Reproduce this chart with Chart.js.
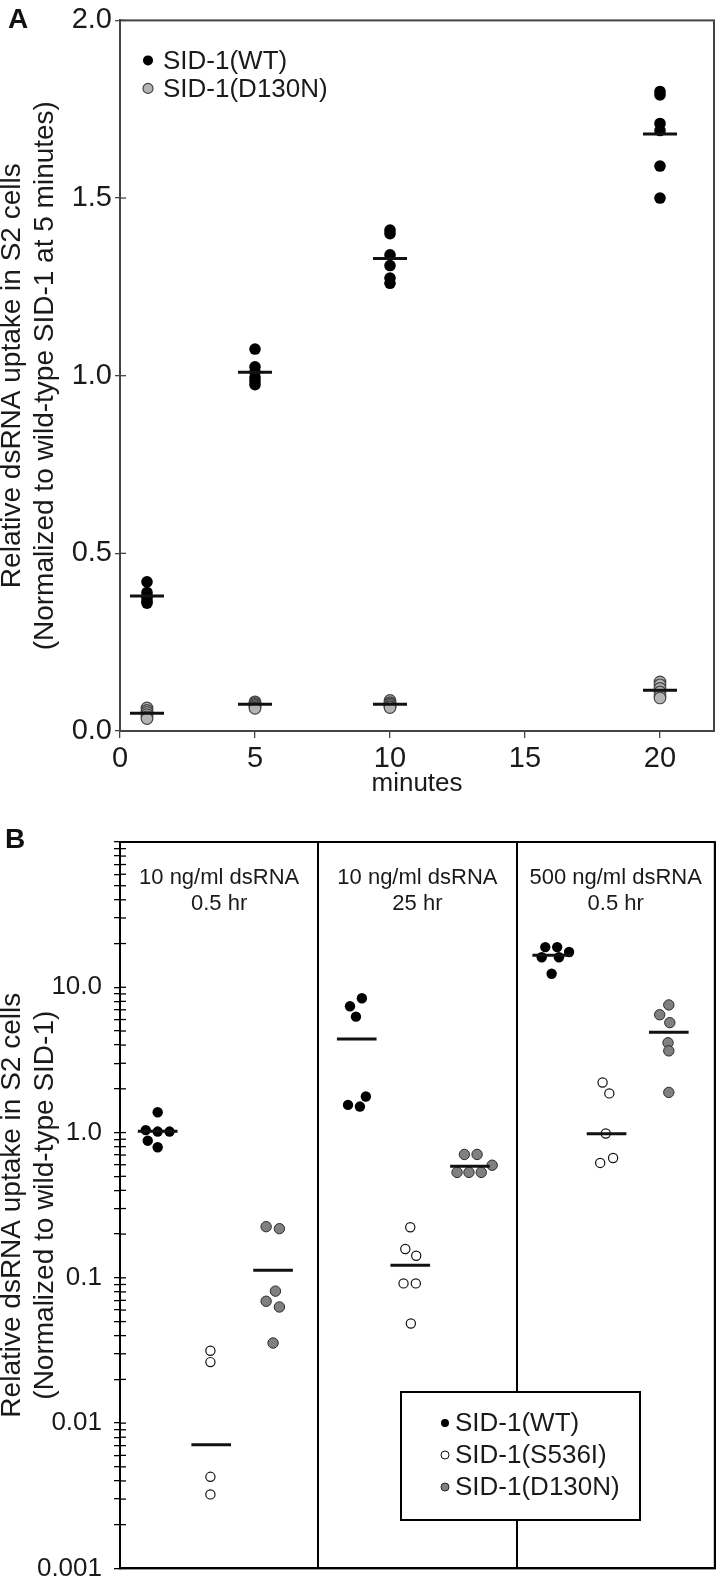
<!DOCTYPE html>
<html>
<head>
<meta charset="utf-8">
<script src="https://cdn.jsdelivr.net/npm/chart.js@4"></script>
<style>
  body { margin: 0; background: #fff; width: 721px; height: 1596px; position: relative; overflow: hidden;
         font-family: "Liberation Sans", Arial, Helvetica, sans-serif; }
  .box { position: absolute; left: 0; width: 721px; }
  .tag { position: absolute; font-weight: bold; font-size: 28px; color: #111; }
</style>
</head>
<body>
<div class="box" style="top:0;height:800px"><canvas id="chartA" width="721" height="800"></canvas></div>
<div class="box" style="top:810px;height:786px"><canvas id="chartB" width="721" height="786"></canvas></div>
<div class="tag" style="left:8px;top:3px">A</div>
<div class="tag" style="left:5px;top:823px">B</div>
<script>
// ---------- panel A data ----------
const timesA = [1, 5, 10, 20];
const wtA = [
  [0.42, 0.39, 0.38, 0.375, 0.365, 0.36],
  [1.075, 1.025, 1.01, 0.995, 0.985, 0.975],
  [1.41, 1.40, 1.34, 1.31, 1.275, 1.26],
  [1.80, 1.79, 1.71, 1.69, 1.59, 1.50]
];
const d130nA = [
  [0.065, 0.058, 0.052, 0.046, 0.040, 0.035],
  [0.082, 0.078, 0.075, 0.072, 0.068, 0.064],
  [0.086, 0.080, 0.076, 0.072, 0.068, 0.066],
  [0.138, 0.130, 0.120, 0.110, 0.100, 0.093]
];
const wtMeanA = [0.38, 1.01, 1.33, 1.68];
const d130nMeanA = [0.05, 0.075, 0.075, 0.115];
const xTicksA = [0, 5, 10, 15, 20];
const yTicksA = [0, 0.5, 1.0, 1.5, 2.0];
const seriesA = ['SID-1(WT)', 'SID-1(D130N)'];

// ---------- panel B data ----------
const conditionsB = [['10 ng/ml dsRNA', '0.5 hr'], ['10 ng/ml dsRNA', '25 hr'], ['500 ng/ml dsRNA', '0.5 hr']];
const wtB = [[1.38, 1.04, 1.016, 1.016, 0.879, 0.792], [8.4, 7.4, 6.28, 1.77, 1.55, 1.51], [18.9, 18.9, 17.5, 16.1, 16.1, 12.4]];
const wtXB = [[0.19, 0.13, 0.19, 0.25, 0.14, 0.19], [1.22, 1.16, 1.19, 1.24, 1.15, 1.21], [2.145, 2.205, 2.265, 2.127, 2.214, 2.177]];
const s536iB = [[0.0315, 0.0263, 0.00427, 0.00323], [0.223, 0.158, 0.142, 0.0916, 0.0916, 0.0485], [2.21, 1.86, 0.985, 0.668, 0.618]];
const s536iXB = [[0.456, 0.456, 0.456, 0.456], [1.464, 1.439, 1.494, 1.43, 1.492, 1.467], [2.434, 2.468, 2.45, 2.487, 2.422]];
const d130nB = [[0.225, 0.218, 0.081, 0.069, 0.063, 0.0356], [0.707, 0.707, 0.596, 0.532, 0.532, 0.532], [7.56, 6.47, 5.71, 4.15, 3.65, 1.89]];
const d130nXB = [[0.737, 0.804, 0.784, 0.737, 0.804, 0.772], [1.737, 1.801, 1.877, 1.700, 1.760, 1.822], [2.768, 2.722, 2.773, 2.764, 2.768, 2.768]];
const wtMeanB = [1.02, 4.4, 16.6];
const wtMeanXB = [0.19, 1.194, 2.18];
const s536iMeanB = [0.0071, 0.122, 0.98];
const s536iMeanXB = [0.46, 1.464, 2.454];
const d130nMeanB = [0.113, 0.587, 4.9];
const d130nMeanXB = [0.772, 1.765, 2.768];
const yTicksB = [0.001, 0.01, 0.1, 1, 10];
const yTickTextB = ['0.001', '0.01', '0.1', '1.0', '10.0'];
const seriesB = ['SID-1(WT)', 'SID-1(S536I)', 'SID-1(D130N)'];

const FONT = '"Liberation Sans", Arial, Helvetica, sans-serif';
const ink = '#1a1a1a';

function meanLine(x, y, half) {
  return {
    data: [{x: x - half, y: y}, {x: x + half, y: y}],
    showLine: true, pointRadius: 0, borderColor: '#111', borderWidth: 3, order: 0
  };
}

// ---------- chart A ----------
const pointsWtA = [], pointsD130nA = [];
timesA.forEach((t, i) => {
  wtA[i].forEach(v => pointsWtA.push({x: t, y: v}));
  d130nA[i].forEach(v => pointsD130nA.push({x: t, y: v}));
});

const dsA = [
  {label: seriesA[0], data: pointsWtA, pointRadius: 5.8, backgroundColor: '#000', borderColor: '#000', borderWidth: 0, order: 2},
  {label: seriesA[1], data: pointsD130nA, pointRadius: 5.8, backgroundColor: '#b4b4b4', borderColor: '#444', borderWidth: 1.2, order: 1}
];
timesA.forEach((t, i) => {
  dsA.push(meanLine(t, wtMeanA[i], 0.63));
  dsA.push(meanLine(t, d130nMeanA[i], 0.63));
});

const extrasA = {
  id: 'extrasA',
  afterDraw(chart) {
    const {ctx, chartArea: a, scales} = chart;
    ctx.save();
    ctx.strokeStyle = '#444';
    ctx.lineWidth = 2;
    ctx.strokeRect(a.left, a.top, a.right - a.left, a.bottom - a.top);
    ctx.lineWidth = 1.3;
    yTicksA.forEach(v => {
      const y = scales.y.getPixelForValue(v);
      ctx.beginPath(); ctx.moveTo(a.left, y); ctx.lineTo(a.left + 6, y); ctx.stroke();
    });
    // legend in the upper left corner
    ctx.font = '26px ' + FONT;
    ctx.textBaseline = 'middle';
    seriesA.forEach((name, i) => {
      const d = chart.data.datasets[i];
      const y = a.top + 40 + i * 28;
      ctx.beginPath();
      ctx.arc(a.left + 28, y, 5, 0, Math.PI * 2);
      ctx.fillStyle = d.backgroundColor; ctx.fill();
      if (d.borderWidth) { ctx.strokeStyle = d.borderColor; ctx.lineWidth = 1.2; ctx.stroke(); }
      ctx.fillStyle = ink;
      ctx.fillText(name, a.left + 43, y + 1);
    });
    ctx.restore();
  }
};

new Chart(document.getElementById('chartA'), {
  type: 'scatter',
  data: {datasets: dsA},
  options: {
    responsive: false, animation: false, devicePixelRatio: 1,
    layout: {padding: {top: 10, right: 3, left: 0, bottom: 0}},
    plugins: {legend: {display: false}, tooltip: {enabled: false}},
    scales: {
      x: {
        type: 'linear', min: 0, max: 22,
        afterBuildTicks: s => { s.ticks = xTicksA.map(v => ({value: v})); },
        afterFit: s => { s.height = 69; },
        ticks: {color: ink, font: {size: 29, family: FONT}, padding: 4, maxRotation: 0, autoSkip: false},
        grid: {drawOnChartArea: false, drawTicks: true, tickLength: 7, color: '#444', lineWidth: 1.3},
        border: {color: '#444', width: 2},
        title: {display: true, text: 'minutes', color: ink, font: {size: 26, family: FONT}, padding: {top: 0, bottom: 1}}
      },
      y: {
        min: 0, max: 2,
        afterBuildTicks: s => { s.ticks = yTicksA.map(v => ({value: v})); },
        afterFit: s => { s.width = 120; },
        ticks: {color: ink, font: {size: 29, family: FONT}, padding: 3, autoSkip: false, callback: v => v.toFixed(1)},
        grid: {drawOnChartArea: false, drawTicks: true, tickLength: 5, color: '#444', lineWidth: 1.3},
        border: {color: '#444', width: 2},
        title: {
          display: true, color: ink,
          text: ['Relative dsRNA uptake in S2 cells', '(Normalized to wild-type SID-1 at 5 minutes)'],
          font: {size: 28, family: FONT, lineHeight: 1.2}, padding: {top: -5, bottom: 0}
        }
      }
    }
  },
  plugins: [extrasA]
});

// ---------- chart B ----------
function groupPoints(vals, xs) {
  const out = [];
  vals.forEach((g, i) => g.forEach((v, j) => out.push({x: xs[i][j], y: v})));
  return out;
}

const dsB = [
  {label: seriesB[0], data: groupPoints(wtB, wtXB), pointRadius: 5.2, backgroundColor: '#000', borderColor: '#000', borderWidth: 0, order: 3},
  {label: seriesB[1], data: groupPoints(s536iB, s536iXB), pointRadius: 4.6, backgroundColor: '#fff', borderColor: '#111', borderWidth: 1.2, order: 2},
  {label: seriesB[2], data: groupPoints(d130nB, d130nXB), pointRadius: 5.2, backgroundColor: '#808080', borderColor: '#2a2a2a', borderWidth: 1, order: 1}
];
[0, 1, 2].forEach(i => {
  dsB.push(meanLine(wtMeanXB[i], wtMeanB[i], 0.1));
  dsB.push(meanLine(s536iMeanXB[i], s536iMeanB[i], 0.1));
  dsB.push(meanLine(d130nMeanXB[i], d130nMeanB[i], 0.1));
});

const extrasB = {
  id: 'extrasB',
  afterDraw(chart) {
    const {ctx, chartArea: a, scales} = chart;
    ctx.save();
    ctx.strokeStyle = '#000';
    ctx.lineWidth = 2;
    ctx.strokeRect(a.left, a.top, a.right - a.left, a.bottom - a.top);
    ctx.lineWidth = 1.3;
    scales.y.ticks.forEach(t => {
      const y = scales.y.getPixelForValue(t.value);
      ctx.beginPath(); ctx.moveTo(a.left, y); ctx.lineTo(a.left + 6, y); ctx.stroke();
    });
    // condition labels in each panel
    ctx.fillStyle = ink;
    ctx.font = '22px ' + FONT;
    ctx.textAlign = 'center';
    ctx.textBaseline = 'middle';
    conditionsB.forEach((lines, i) => {
      const x = scales.x.getPixelForValue(i + 0.5);
      lines.forEach((s, k) => ctx.fillText(s, x, a.top + 36 + k * 26));
    });
    // boxed legend
    const lx = 401, ly = 582, lw = 239, lh = 128;
    ctx.fillStyle = '#fff';
    ctx.fillRect(lx, ly, lw, lh);
    ctx.strokeStyle = '#000';
    ctx.lineWidth = 2;
    ctx.strokeRect(lx, ly, lw, lh);
    ctx.textAlign = 'left';
    ctx.font = '26px ' + FONT;
    seriesB.forEach((name, i) => {
      const d = chart.data.datasets[i];
      const y = ly + 31 + i * 32;
      ctx.beginPath();
      ctx.arc(lx + 44, y, 4, 0, Math.PI * 2);
      ctx.fillStyle = d.backgroundColor; ctx.fill();
      if (d.borderWidth) { ctx.strokeStyle = d.borderColor; ctx.lineWidth = 1; ctx.stroke(); }
      ctx.fillStyle = ink;
      ctx.fillText(name, lx + 54, y + 1);
    });
    ctx.restore();
  }
};

new Chart(document.getElementById('chartB'), {
  type: 'scatter',
  data: {datasets: dsB},
  options: {
    responsive: false, animation: false, devicePixelRatio: 1,
    layout: {padding: {top: 32, right: 2, left: 0, bottom: 0}},
    plugins: {legend: {display: false}, tooltip: {enabled: false}},
    scales: {
      x: {
        type: 'linear', min: 0, max: 3,
        afterBuildTicks: s => { s.ticks = [0, 1, 2, 3].map(v => ({value: v})); },
        afterFit: s => { s.height = 9; },
        ticks: {display: false},
        grid: {drawOnChartArea: true, drawTicks: false, color: '#000', lineWidth: 2},
        border: {color: '#000', width: 2}
      },
      y: {
        type: 'logarithmic', min: 0.001, max: 100,
        afterBuildTicks: s => {
          const t = [];
          yTicksB.forEach(d => { for (let m = 1; m <= 9; m++) t.push({value: d * m, major: m === 1}); });
          t.push({value: 100, major: true});
          s.ticks = t;
        },
        afterFit: s => { s.width = 120; },
        ticks: {
          color: ink, font: {size: 26, family: FONT}, padding: 12, autoSkip: false,
          callback: (v) => {
            const i = yTicksB.findIndex(d => Math.abs(d - v) / d < 1e-6);
            return i >= 0 ? yTickTextB[i] : '';
          }
        },
        grid: {drawOnChartArea: false, drawTicks: true, tickLength: 6, color: '#000', lineWidth: 1.3},
        border: {color: '#000', width: 2},
        title: {
          display: true, color: ink,
          text: ['Relative dsRNA uptake in S2 cells', '(Normalized to wild-type SID-1)'],
          font: {size: 28, family: FONT, lineHeight: 1.2}, padding: {top: -5, bottom: 0}
        }
      }
    }
  },
  plugins: [extrasB]
});
</script>
</body>
</html>
